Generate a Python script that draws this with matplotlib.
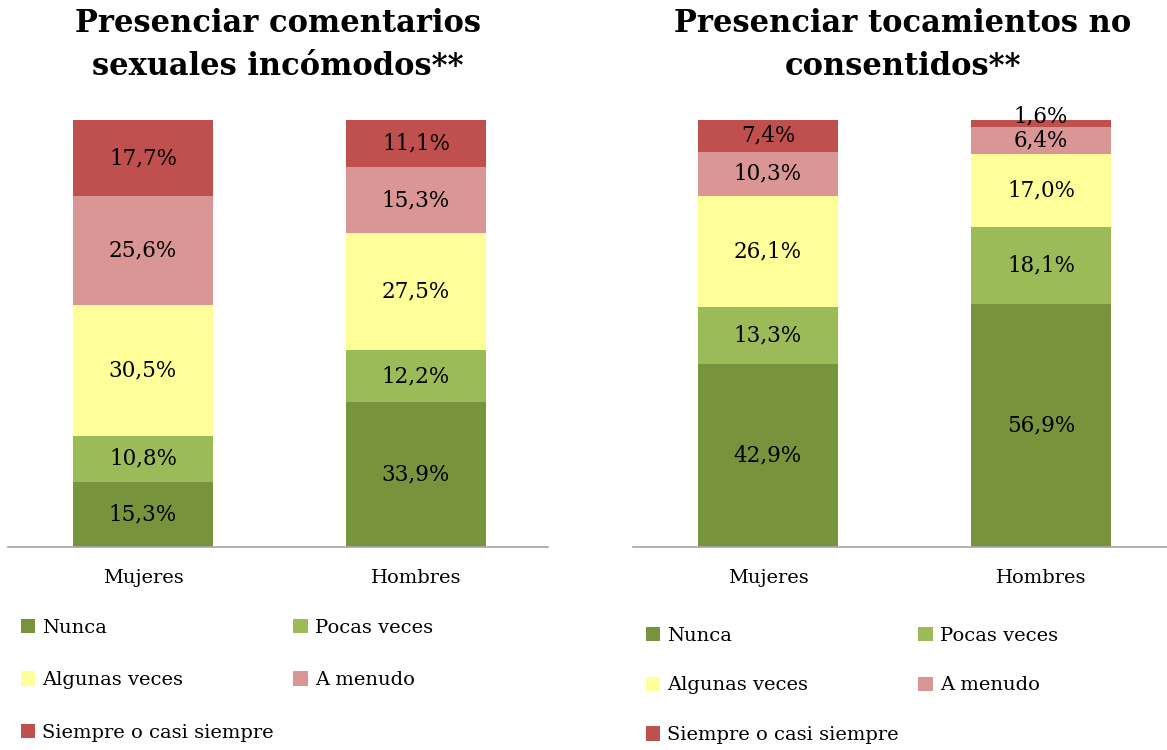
import matplotlib
matplotlib.use('Agg')
import matplotlib.pyplot as plt
import numpy as np

plt.rcParams['font.family'] = ['DejaVu Serif']

groups = ['Mujeres', 'Hombres']
categories = ['Nunca', 'Pocas veces', 'Algunas veces', 'A menudo', 'Siempre o casi siempre']
colors = ['#77933C', '#9BBB59', '#FFFF99', '#D99694', '#C0504D']

titles = ['Presenciar comentarios\nsexuales incómodos**',
          'Presenciar tocamientos no\nconsentidos**']

# porcentajes por categoria: [Mujeres, Hombres]
comentarios = {
    'Nunca': [15.3, 33.9],
    'Pocas veces': [10.8, 12.2],
    'Algunas veces': [30.5, 27.5],
    'A menudo': [25.6, 15.3],
    'Siempre o casi siempre': [17.7, 11.1],
}
tocamientos = {
    'Nunca': [42.9, 56.9],
    'Pocas veces': [13.3, 18.1],
    'Algunas veces': [26.1, 17.0],
    'A menudo': [10.3, 6.4],
    'Siempre o casi siempre': [7.4, 1.6],
}

fig = plt.figure(figsize=(11.67, 7.5), dpi=100)
W, H = 1167, 750

panels = [(8, comentarios, titles[0]), (633, tocamientos, titles[1])]
legend_top = [611, 619]
legend_sp = [1.78, 1.63]

for i, (x0, data, title) in enumerate(panels):
    ax = fig.add_axes([x0 / W, (H - 547) / H, 540 / W, 427 / H])
    x = np.arange(len(groups))
    bottom = np.zeros(len(groups))
    handles = []
    for cat, col in zip(categories, colors):
        vals = np.array(data[cat])
        b = ax.bar(x, vals, width=0.513, bottom=bottom, color=col, label=cat)
        handles.append(b)
        for xi, v, bt in zip(x, vals, bottom):
            # etiquetas de segmentos muy finos un poco hacia arriba (como Excel)
            dy = 5 if v < 3 else 0
            ax.annotate(f'{v:.1f}%'.replace('.', ','), (xi, bt + v / 2),
                        xytext=(0, dy), textcoords='offset points',
                        ha='center', va='center', fontsize=15.5)
        bottom += vals
    ax.set_xlim(-135 / 273, 1 + 132 / 273)
    ax.set_ylim(0, 100)
    ax.set_xticks(x)
    ax.set_xticklabels(groups, fontsize=14)
    ax.tick_params(axis='x', length=0, pad=16)
    ax.set_yticks([])
    for s in ['top', 'right', 'left']:
        ax.spines[s].set_visible(False)
    ax.spines['bottom'].set_color('#A6A6A6')
    ax.spines['bottom'].set_linewidth(1.2)
    fig.text((x0 + 270) / W, 1 - 45 / H, title, ha='center', va='center',
             fontsize=22, fontweight='bold', linespacing=1.5)

    order = [0, 2, 4, 1, 3]
    fig.legend([handles[k] for k in order], [categories[k] for k in order],
               ncol=2, loc='upper left',
               bbox_to_anchor=((x0 + 5) / W, 1 - legend_top[i] / H),
               frameon=False, fontsize=14, handlelength=0.75, handleheight=0.75,
               handletextpad=0.35, labelspacing=legend_sp[i], columnspacing=1.0,
               borderaxespad=0)

fig.savefig('out.png', dpi=100)
